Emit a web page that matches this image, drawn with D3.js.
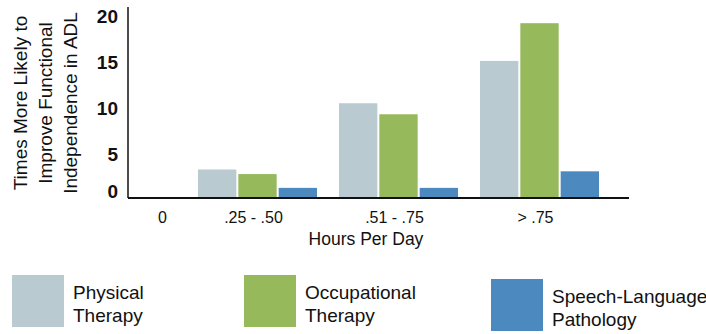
<!DOCTYPE html>
<html>
<head>
<meta charset="utf-8">
<script src="https://cdn.jsdelivr.net/npm/d3@7"></script>
<style>
  html, body { margin: 0; padding: 0; background: #fff; }
  svg { display: block; font-family: "Liberation Sans", Arial, sans-serif; }
</style>
</head>
<body>
<svg id="chart" width="706" height="334"></svg>
<script>
// Hours of therapy per day (categories) and likelihood ratios per discipline
const categories = ["0", ".25 - .50", ".51 - .75", "> .75"];
const seriesNames = ["Physical Therapy", "Occupational Therapy", "Speech-Language Pathology"];
const physicalTherapy = [0, 3.1, 10.3, 14.9];
const occupationalTherapy = [0, 2.6, 9.1, 19.0];
const speechLanguage = [0, 1.1, 1.1, 2.9];
const yTicks = [0, 5, 10, 15, 20];
const legendLines = [["Physical", "Therapy"], ["Occupational", "Therapy"], ["Speech-Language", "Pathology"]];
const yTitleLines = ["Times More Likely to", "Improve Functional", "Independence in ADL"];
const xTitle = "Hours Per Day";

const colors = ["#b9cad1", "#95b95b", "#4c89be"];
const series = [physicalTherapy, occupationalTherapy, speechLanguage];

const svg = d3.select("#chart");

const x = d3.scaleBand()
  .domain(categories)
  .range([46, 610])
  .paddingInner(0.156)
  .paddingOuter(0.078);

const xSub = d3.scaleBand()
  .domain(d3.range(seriesNames.length))
  .range([0, x.bandwidth()])
  .paddingInner(0.05);

const y = d3.scaleLinear().domain([0, 20]).range([198, 14]);

// Bars
const groups = svg.append("g")
  .selectAll("g")
  .data(categories)
  .join("g")
  .attr("transform", d => `translate(${x(d)},0)`);

groups.selectAll("rect")
  .data((c, i) => series.map((s, k) => ({ k, v: s[i] })))
  .join("rect")
  .attr("x", d => xSub(d.k))
  .attr("width", xSub.bandwidth())
  .attr("y", d => y(d.v))
  .attr("height", d => y(0) - y(d.v))
  .attr("fill", d => colors[d.k]);

// Y axis
const yAxis = svg.append("g")
  .attr("transform", "translate(128,0)")
  .call(d3.axisLeft(y).tickValues(yTicks).tickSize(0).tickPadding(10));
yAxis.select(".domain").remove();
yAxis.selectAll("text")
  .attr("font-size", 19)
  .attr("font-weight", "bold")
  .attr("fill", "#111")
  .attr("dy", d => d === 0 ? "-0.05em" : "0.45em");
svg.append("line")
  .attr("x1", 128).attr("x2", 128)
  .attr("y1", 7).attr("y2", y(0))
  .attr("stroke", "#111").attr("stroke-width", 1.5);

// X axis
const xAxis = svg.append("g")
  .attr("transform", `translate(0,${y(0)})`)
  .call(d3.axisBottom(x).tickSize(0).tickPadding(0));
xAxis.select(".domain").remove();
xAxis.selectAll("text")
  .attr("font-size", 16)
  .attr("fill", "#111")
  .attr("dy", null)
  .attr("y", 25)
  .attr("x", d => d === "0" ? 46 : -4);
svg.append("line")
  .attr("x1", 128).attr("x2", 629)
  .attr("y1", y(0)).attr("y2", y(0))
  .attr("stroke", "#111").attr("stroke-width", 2);

svg.append("text")
  .attr("x", 366).attr("y", 245)
  .attr("text-anchor", "middle")
  .attr("font-size", 17.5)
  .attr("fill", "#111")
  .text(xTitle);

// Y title (three rotated lines)
svg.append("g")
  .attr("transform", "translate(0,103) rotate(-90)")
  .selectAll("text")
  .data(yTitleLines)
  .join("text")
  .attr("x", 0)
  .attr("y", (d, i) => 27 + i * 25)
  .attr("text-anchor", "middle")
  .attr("font-size", 19)
  .attr("fill", "#111")
  .text(d => d);

// Legend
const legendX = [12, 244, 491];
const legendY = [275, 275, 279];
const legend = svg.append("g")
  .selectAll("g")
  .data(seriesNames)
  .join("g")
  .attr("transform", (d, i) => `translate(${legendX[i]},${legendY[i]})`);
legend.append("rect")
  .attr("width", 52).attr("height", 52)
  .attr("fill", (d, i) => colors[i]);
legend.each(function (d, i) {
  d3.select(this).selectAll("text")
    .data(legendLines[i])
    .join("text")
    .attr("x", 61)
    .attr("y", (t, j) => 24 + j * 23)
    .attr("font-size", 19)
    .attr("fill", "#111")
    .text(t => t);
});
</script>
</body>
</html>
